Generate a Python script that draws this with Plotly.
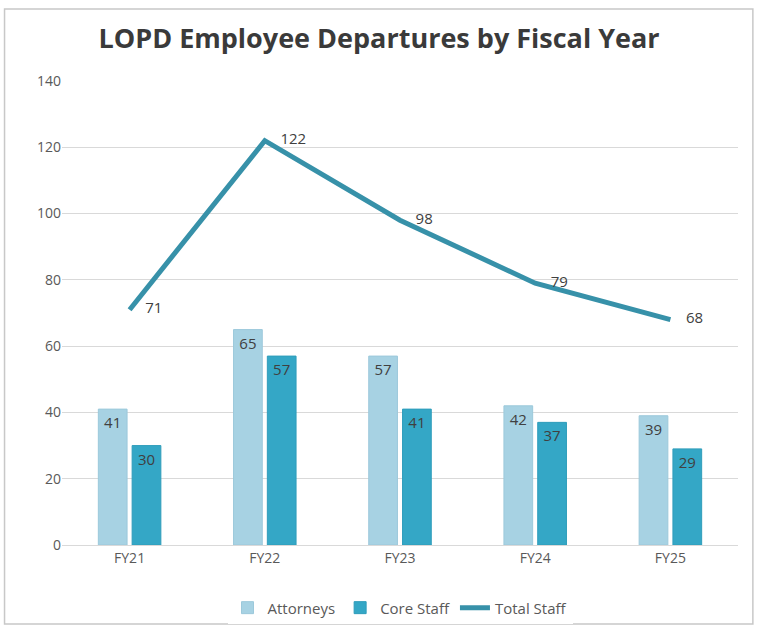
import plotly.graph_objects as go

years = ["FY21", "FY22", "FY23", "FY24", "FY25"]
attorneys = [41, 65, 57, 42, 39]
core_staff = [30, 57, 41, 37, 29]
total_staff = [71, 122, 98, 79, 68]

font_family = "Open Sans, Liberation Sans, sans-serif"
label_color = "#404040"

fig = go.Figure()
fig.add_trace(go.Bar(
    x=years, y=attorneys, name="Attorneys",
    marker=dict(color="#a7d2e3", line=dict(color="#9cc9db", width=1)),
    text=attorneys, textposition="inside", insidetextanchor="end",
    textfont=dict(size=15, color=label_color, family=font_family),
))
fig.add_trace(go.Bar(
    x=years, y=core_staff, name="Core Staff",
    marker=dict(color="#34a7c6", line=dict(color="#2f9dbb", width=1)),
    text=core_staff, textposition="inside", insidetextanchor="end",
    textfont=dict(size=15, color=label_color, family=font_family),
))
fig.add_trace(go.Scatter(
    x=years, y=total_staff, name="Total Staff", mode="lines+text",
    line=dict(color="#3791a9", width=5),
    text=["    " + str(v) for v in total_staff], textposition="middle right",
    textfont=dict(size=15, color=label_color, family=font_family),
))

fig.update_layout(
    width=758, height=639,
    margin=dict(l=62, r=20, t=81, b=94),
    paper_bgcolor="white", plot_bgcolor="white",
    barmode="group", bargap=0.5, bargroupgap=0.15,
    font=dict(family=font_family, color="#595959", size=14),
    title=dict(text="<b>LOPD Employee Departures by Fiscal Year</b>",
               x=0.5, xanchor="center", y=0.94, yanchor="middle",
               font=dict(size=27, color="#3a3a3a", family=font_family)),
    legend=dict(orientation="h", x=0.5, xanchor="center", y=-0.1, yanchor="top",
                font=dict(size=15, color="#595959"), traceorder="normal"),
    showlegend=True,
    shapes=[dict(type="rect", xref="paper", yref="paper",
                 x0=-0.085, x1=1.022, y0=-0.17, y1=1.155,
                 line=dict(color="#c8c8c8", width=1.5))],
)
fig.update_yaxes(range=[0, 140], dtick=20, showgrid=True, gridcolor="#d9d9d9",
                 gridwidth=1, zeroline=False, showline=False, ticks="",
                 tickfont=dict(size=14, color="#595959"))
fig.update_xaxes(showline=True, linecolor="#d9d9d9", linewidth=1, ticks="",
                 tickfont=dict(size=14, color="#595959"))

fig.write_html("out.html")
